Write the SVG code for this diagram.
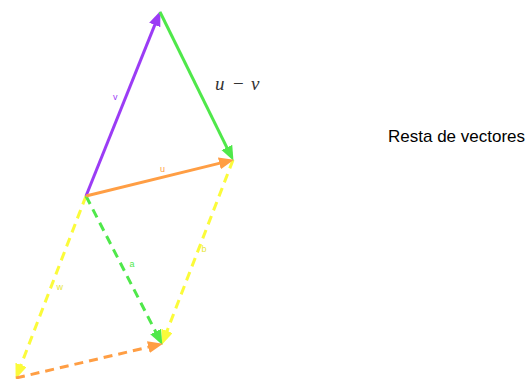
<svg xmlns="http://www.w3.org/2000/svg" width="530" height="379" viewBox="0 0 530 379">
<style>
.v{stroke:#9b3cf5;}
.g{stroke:#4fe84a;}
.o{stroke:#ff9e44;}
.y{stroke:#fbfb3a;}
line{stroke-width:3;fill:none;}
.d{stroke-dasharray:9 6;}
.lbl{font-family:"Liberation Sans",Arial,sans-serif;font-size:9px;}
</style>
<defs>
<marker id="mv" markerUnits="userSpaceOnUse" markerWidth="16" markerHeight="13" refX="6" refY="6" orient="auto"><path d="M0,0 L15,6 L0,12 z" fill="#9b3cf5"/></marker>
<marker id="mg" markerUnits="userSpaceOnUse" markerWidth="16" markerHeight="13" refX="6" refY="6" orient="auto"><path d="M0,0 L15,6 L0,12 z" fill="#4fe84a"/></marker>
<marker id="mo" markerUnits="userSpaceOnUse" markerWidth="16" markerHeight="13" refX="6" refY="6" orient="auto"><path d="M0,0 L15,6 L0,12 z" fill="#ff9e44"/></marker>
<marker id="my" markerUnits="userSpaceOnUse" markerWidth="16" markerHeight="13" refX="6" refY="6" orient="auto"><path d="M0,0 L15,6 L0,12 z" fill="#fbfb3a"/></marker>
</defs>
<g id="connectors">
<line class="y d" x1="86" y1="196" x2="18.9" y2="370.5" marker-end="url(#my)"/>
<line class="y d" x1="233" y1="160" x2="164.9" y2="336.5" marker-end="url(#my)"/>
<line class="g d" x1="86" y1="196" x2="158.3" y2="336.9" marker-end="url(#mg)"/>
<line class="o d" x1="16" y1="378" x2="154.2" y2="345.8" marker-end="url(#mo)"/>
<line class="v" x1="86" y1="196" x2="157" y2="19.4" marker-end="url(#mv)"/>
<line class="g" x1="160" y1="12" x2="229.5" y2="152.8" marker-end="url(#mg)"/>
<line class="o" x1="86" y1="196" x2="225.2" y2="161.9" marker-end="url(#mo)"/>
</g>
<g id="labels">
<text class="lbl" x="113" y="100" fill="#9b3cf5">v</text>
<text class="lbl" x="160" y="172" fill="#ff9e44">u</text>
<text class="lbl" x="129.5" y="267" fill="#4fe84a">a</text>
<text class="lbl" x="201.5" y="252" fill="#e6e63a">b</text>
<text class="lbl" x="56.5" y="290" fill="#e6e63a">w</text>
</g>
<g id="uv-label" fill="#333" font-family="'Liberation Serif','Times New Roman',serif" font-size="19">
<text x="215" y="90" font-style="italic">u</text>
<text x="233" y="90">−</text>
<text x="251" y="90" font-style="italic">v</text>
</g>
<g id="title">
<text x="388" y="142" font-family="'Liberation Sans',Arial,sans-serif" font-size="17" fill="#000">Resta de vectores</text>
</g>
</svg>
